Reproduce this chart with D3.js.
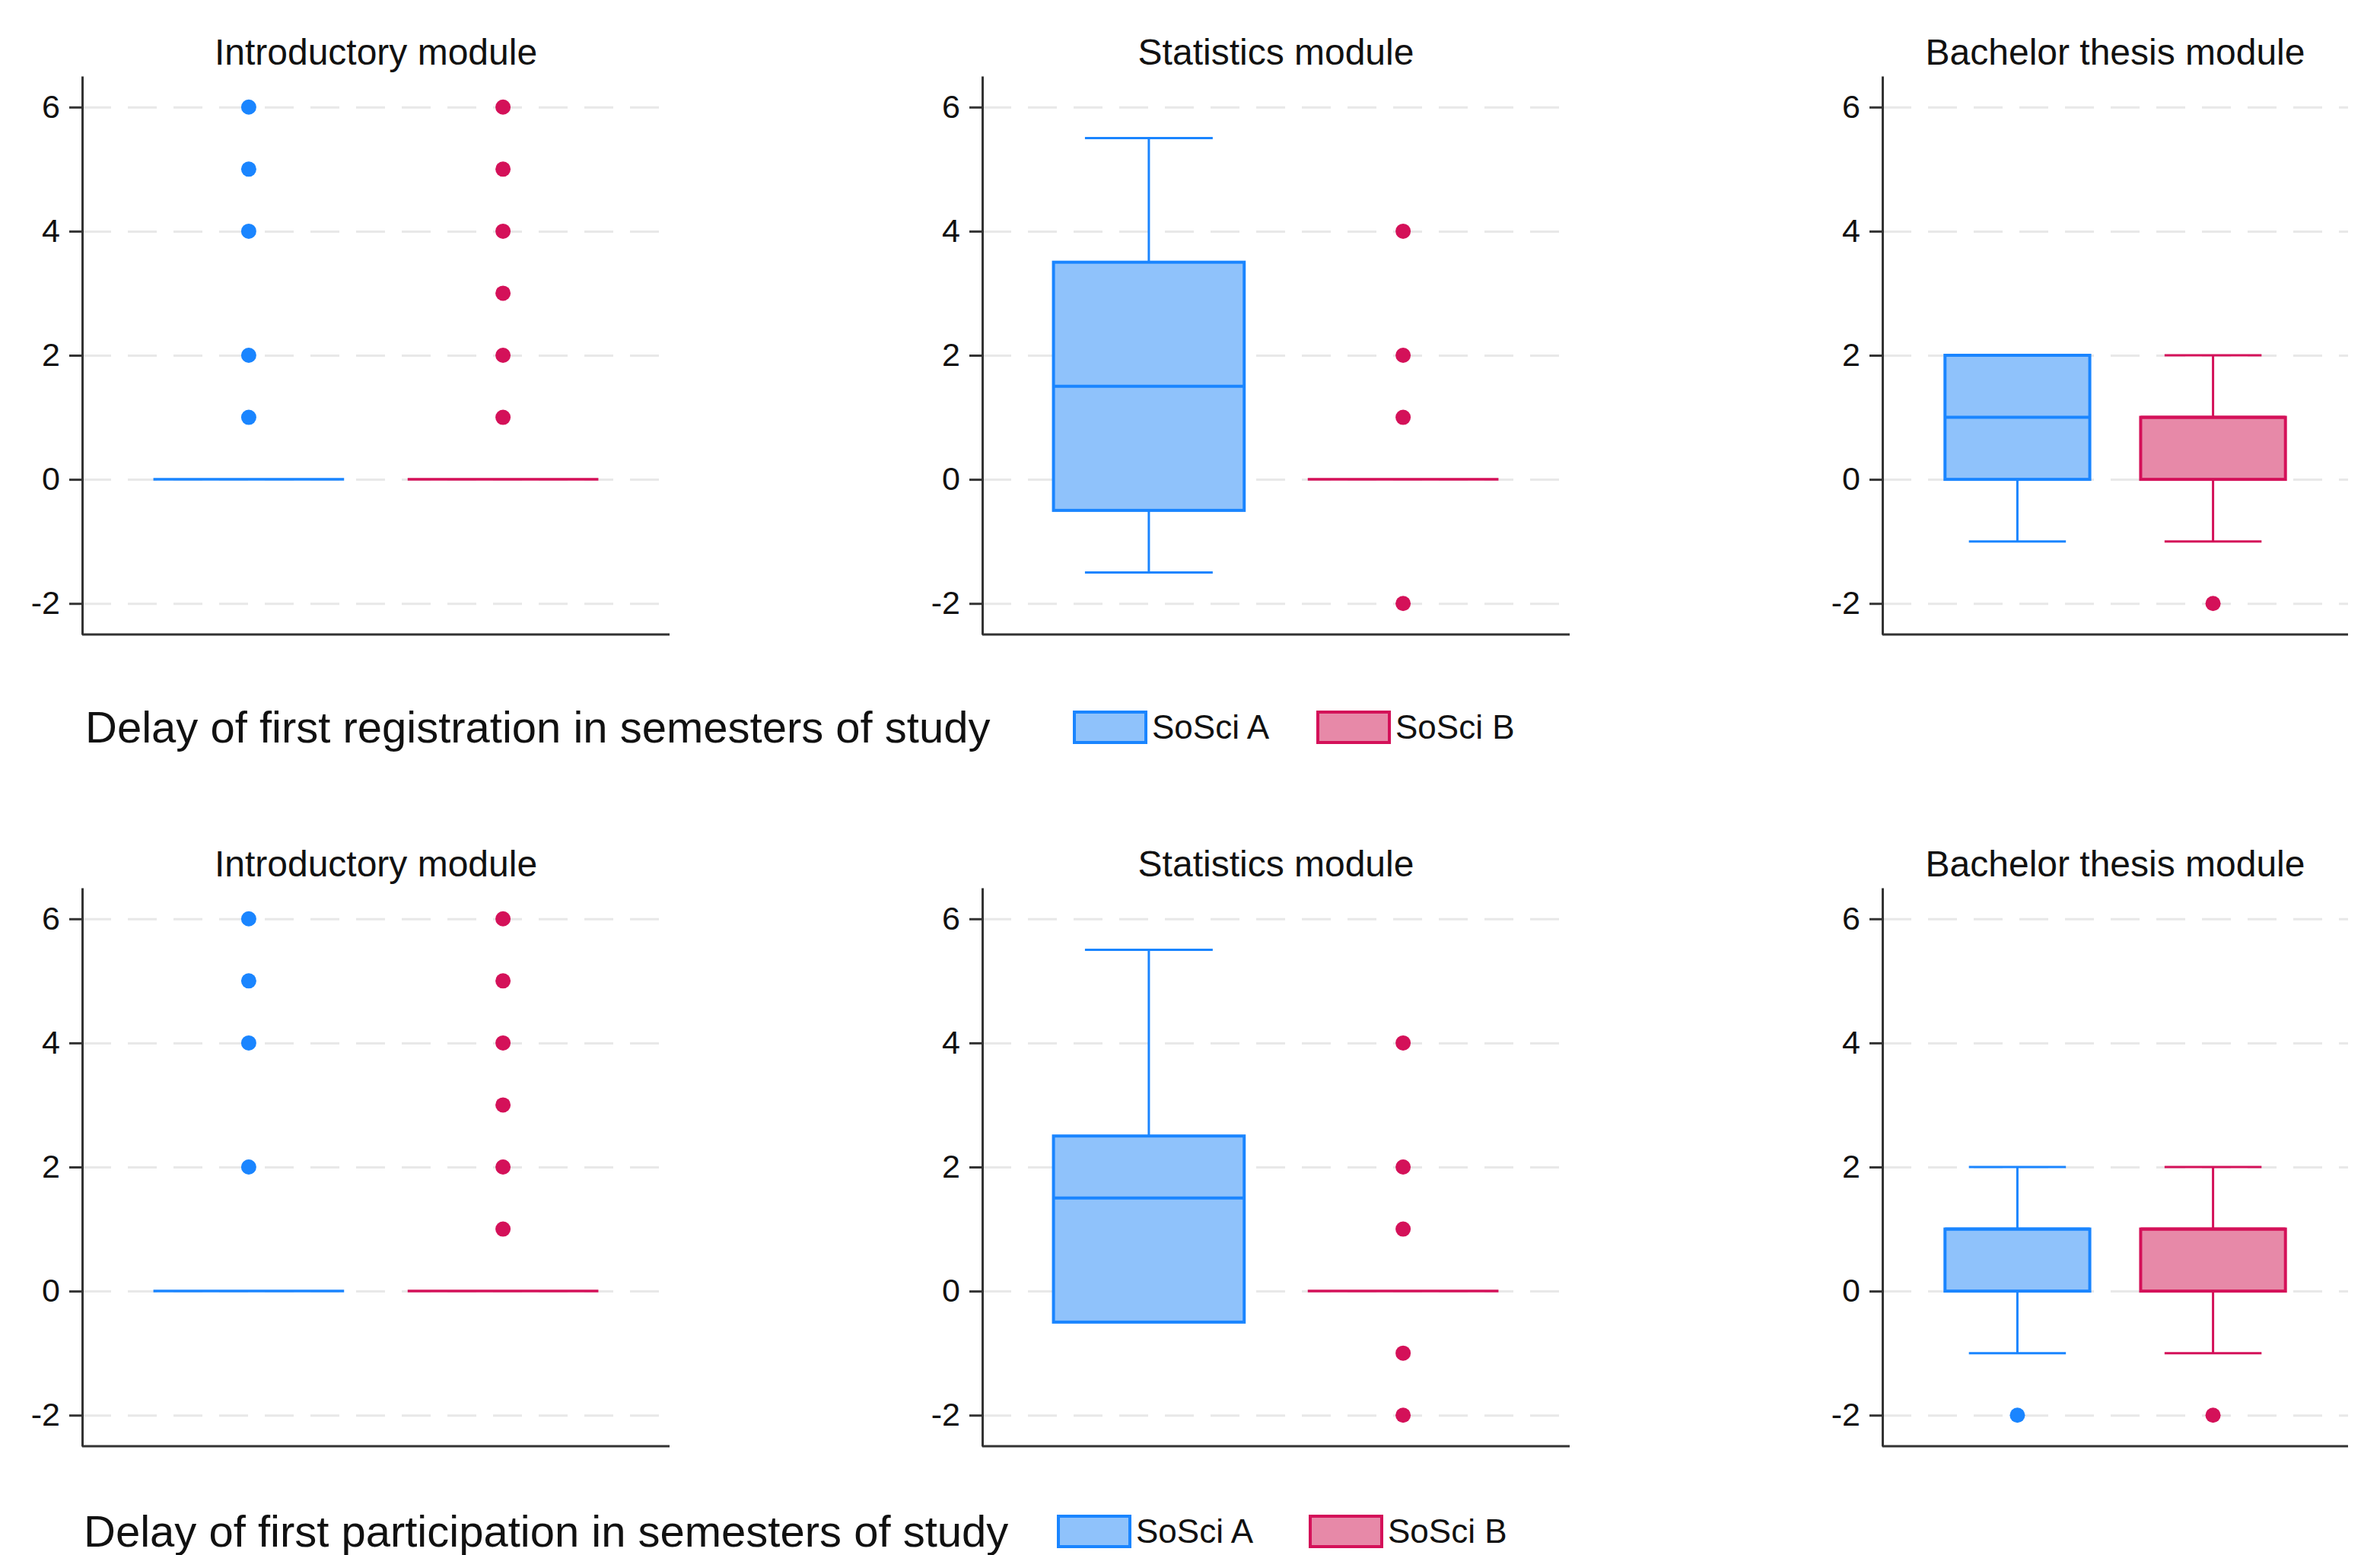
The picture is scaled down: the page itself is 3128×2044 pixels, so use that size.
<!DOCTYPE html>
<html>
	<head>
		<meta charset="utf-8">
		<title>Delay boxplots</title>
		<style>
			body { margin: 0; background: #fff; }
			svg text { font-family: "Liberation Sans", Arial, sans-serif; fill: #111; }
			.grid line { stroke: #e8e8e8; stroke-width: 3px; stroke-dasharray: 38 22; }
			.grid path { display: none; }
			.yaxis path, .yaxis line { stroke: #333; stroke-width: 3px; }
			.yaxis text { font-size: 43px; fill: #111; }
		</style>
		<script src="https://d3js.org/d3.v7.min.js" charset="utf-8"></script>
	</head>
	<body>
		<svg id="chart" width="3128" height="2044"></svg>
		<script>
		// 데이터
		var modules = ["Introductory module", "Statistics module", "Bachelor thesis module"];
		var groups = ["SoSci A", "SoSci B"];
		var rowTitles = ["Delay of first registration in semesters of study",
			"Delay of first participation in semesters of study"];
		var yTicks = [-2, 0, 2, 4, 6];

		// [lower whisker, q1, median, q3, upper whisker] per module, per group
		var registrationStats = [
			[[0, 0, 0, 0, 0], [0, 0, 0, 0, 0]],
			[[-1.5, -0.5, 1.5, 3.5, 5.5], [0, 0, 0, 0, 0]],
			[[-1, 0, 1, 2, 2], [-1, 0, 1, 1, 2]]
		];
		var registrationOutliers = [
			[[1, 2, 4, 5, 6], [1, 2, 3, 4, 5, 6]],
			[[], [-2, 1, 2, 4]],
			[[], [-2]]
		];
		var participationStats = [
			[[0, 0, 0, 0, 0], [0, 0, 0, 0, 0]],
			[[-0.5, -0.5, 1.5, 2.5, 5.5], [0, 0, 0, 0, 0]],
			[[-1, 0, 1, 1, 2], [-1, 0, 1, 1, 2]]
		];
		var participationOutliers = [
			[[2, 4, 5, 6], [1, 2, 3, 4, 5, 6]],
			[[], [-2, -1, 1, 2, 4]],
			[[-2], [-2]]
		];

		var rows = [
			{ title: rowTitles[0], stats: registrationStats, outliers: registrationOutliers },
			{ title: rowTitles[1], stats: participationStats, outliers: participationOutliers }
		];

		var strokeColor = d3.scaleOrdinal().domain(groups).range(["#1a85ff", "#d41159"]);
		var fillColor = d3.scaleOrdinal().domain(groups).range(["#8fc2fb", "#e789a8"]);

		// 레이아웃
		var panelX = [[108, 880], [1291, 2063], [2474, 3086]];
		var panelPad = [[0.25, 0.28], [0.25, 0.28], [0.26, 0.32]];
		var rowTop = [100, 1167];
		var plotH = 734;
		var legendLayout = [
			{ textX: 112, y: 956, swatchX: [1412, 1732] },
			{ textX: 110, y: 2013, swatchX: [1391, 1722] }
		];

		var svg = d3.select("#chart");

		rows.forEach(function(row, r){
			var y = d3.scaleLinear().domain([-2.5, 6.5]).range([rowTop[r] + plotH, rowTop[r]]);

			modules.forEach(function(mod, m){
				var x0 = panelX[m][0], x1 = panelX[m][1];
				var x = d3.scaleBand().domain(groups).range([x0, x1])
					.paddingInner(panelPad[m][0]).paddingOuter(panelPad[m][1]);
				var g = svg.append("g");

				// 격자선
				g.append("g").attr("class", "grid")
					.attr("transform", "translate(" + x0 + ",0)")
					.call(d3.axisLeft(y).tickValues(yTicks).tickSize(-(x1 - x0)).tickFormat(""));

				// 제목
				g.append("text")
					.attr("x", (x0 + x1) / 2)
					.attr("y", rowTop[r] - 15)
					.attr("text-anchor", "middle")
					.style("font-size", "48px")
					.text(mod);

				groups.forEach(function(grp, k){
					var s = row.stats[m][k];
					var cx = x(grp) + x.bandwidth() / 2;
					var bw = x.bandwidth();
					var cap = bw * 0.67;
					var col = strokeColor(grp);

					// 수염
					g.append("line").attr("x1", cx).attr("x2", cx)
						.attr("y1", y(s[0])).attr("y2", y(s[1]))
						.attr("stroke", col).attr("stroke-width", 3);
					g.append("line").attr("x1", cx).attr("x2", cx)
						.attr("y1", y(s[3])).attr("y2", y(s[4]))
						.attr("stroke", col).attr("stroke-width", 3);
					if (s[0] < s[1]) {
						g.append("line").attr("x1", cx - cap / 2).attr("x2", cx + cap / 2)
							.attr("y1", y(s[0])).attr("y2", y(s[0]))
							.attr("stroke", col).attr("stroke-width", 3);
					}
					if (s[4] > s[3]) {
						g.append("line").attr("x1", cx - cap / 2).attr("x2", cx + cap / 2)
							.attr("y1", y(s[4])).attr("y2", y(s[4]))
							.attr("stroke", col).attr("stroke-width", 3);
					}
					// 상자
					if (s[3] > s[1]) {
						g.append("rect")
							.attr("x", x(grp)).attr("y", y(s[3]))
							.attr("width", bw).attr("height", y(s[1]) - y(s[3]))
							.attr("fill", fillColor(grp))
							.attr("stroke", col).attr("stroke-width", 4);
					}
					// 중앙값
					g.append("line").attr("x1", x(grp)).attr("x2", x(grp) + bw)
						.attr("y1", y(s[2])).attr("y2", y(s[2]))
						.attr("stroke", col).attr("stroke-width", s[3] > s[1] ? 4 : 3.5);

					// 이상치
					g.selectAll(null)
						.data(row.outliers[m][k])
						.enter()
						.append("circle")
						.attr("cx", cx)
						.attr("cy", function(d){ return y(d); })
						.attr("r", 10)
						.attr("fill", col);
				});

				// y축
				g.append("g").attr("class", "yaxis")
					.attr("transform", "translate(" + x0 + ",0)")
					.call(d3.axisLeft(y).tickValues(yTicks).tickSize(17).tickSizeOuter(0).tickPadding(12)
						.tickFormat(function(d){ return String(d); }));

				// x축 선
				g.append("line")
					.attr("x1", x0).attr("x2", x1)
					.attr("y1", rowTop[r] + plotH).attr("y2", rowTop[r] + plotH)
					.attr("stroke", "#333").attr("stroke-width", 3);
			});

			// 범례
			var lg = legendLayout[r];
			svg.append("text")
				.attr("x", lg.textX)
				.attr("y", lg.y + 20)
				.style("font-size", "58px")
				.text(row.title);
			groups.forEach(function(grp, k){
				svg.append("rect")
					.attr("x", lg.swatchX[k]).attr("y", lg.y - 20)
					.attr("width", 94).attr("height", 40)
					.attr("fill", fillColor(grp))
					.attr("stroke", strokeColor(grp)).attr("stroke-width", 4);
				svg.append("text")
					.attr("x", lg.swatchX[k] + 102)
					.attr("y", lg.y + 15)
					.style("font-size", "44px")
					.text(grp);
			});
		});
		</script>
	</body>
</html>
